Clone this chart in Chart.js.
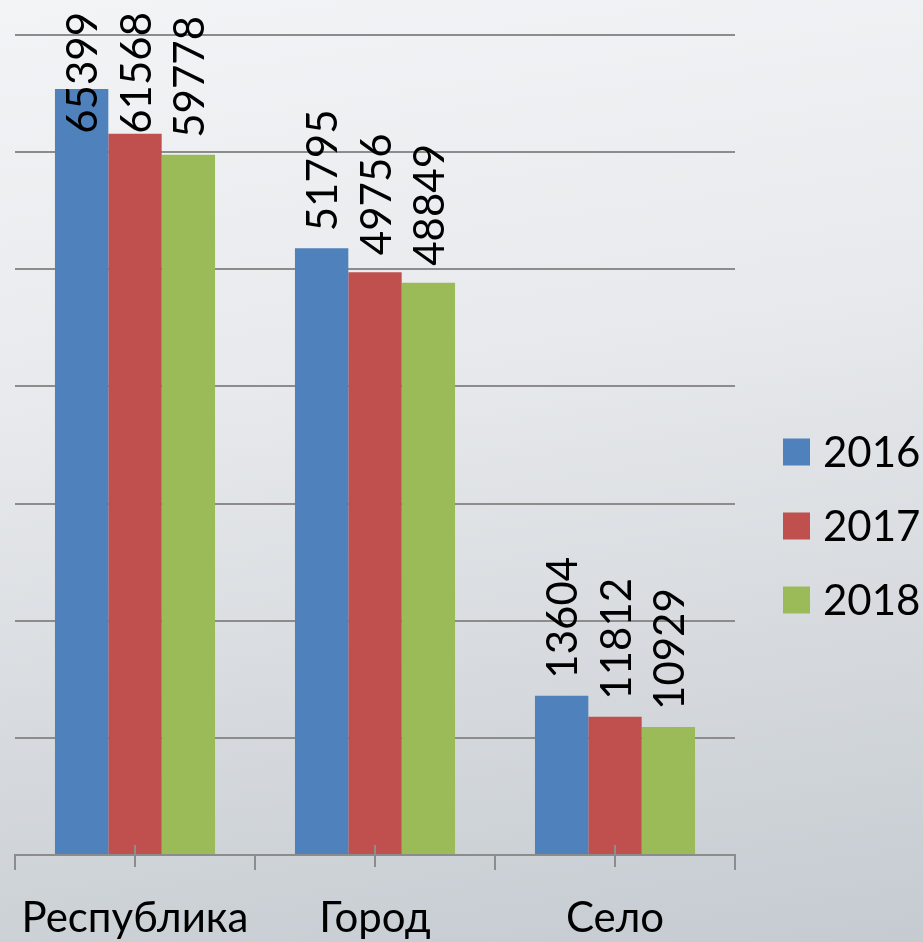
<!DOCTYPE html>
<html lang="ru">
<head>
<meta charset="utf-8">
<title>Республика / Город / Село</title>
<script src="https://cdn.jsdelivr.net/npm/chart.js@4.4.1/dist/chart.umd.min.js"></script>
<style>
    html, body { margin: 0; padding: 0; }
    body {
        width: 923px;
        height: 942px;
        overflow: hidden;
        background: linear-gradient(172deg, #f3f4f6 0%, #e7e9ec 40%, #d6dade 70%, #c5cbd1 100%);
    }
    #wrap { position: relative; width: 923px; height: 942px; }
</style>
</head>
<body>
<div id="wrap"><canvas id="chart"></canvas></div>
<script>
// Данные
const categories = ['Республика', 'Город', 'Село'];
const years = ['2016', '2017', '2018'];
const values2016 = [65399, 51795, 13604];
const values2017 = [61568, 49756, 11812];
const values2018 = [59778, 48849, 10929];
const yMax = 70000;
const yStep = 10000;

const colors = ['#4f81bd', '#c0504d', '#9bbb59'];
const gridColor = '#8c8c8c';
const fontFamily = 'Lato, "Open Sans", sans-serif';

// Подписи значений, повёрнутые вертикально
const barLabels = {
    id: 'barLabels',
    afterDatasetsDraw(chart) {
        const ctx = chart.ctx;
        ctx.save();
        ctx.font = '42px ' + fontFamily;
        ctx.fillStyle = '#000';
        ctx.textAlign = 'left';
        ctx.textBaseline = 'middle';
        chart.data.datasets.forEach((ds, i) => {
            chart.getDatasetMeta(i).data.forEach((bar, j) => {
                const text = String(ds.data[j]);
                const w = ctx.measureText(text).width;
                const start = Math.max(bar.y - 17, 12 + w);
                ctx.save();
                ctx.translate(bar.x + 2, start);
                ctx.rotate(-Math.PI / 2);
                ctx.fillText(text, 0, 0);
                ctx.restore();
            });
        });
        ctx.restore();
    }
};

// Легенда справа
const sideLegend = {
    id: 'sideLegend',
    afterDraw(chart) {
        const ctx = chart.ctx;
        const left = chart.chartArea.right + 48;
        const firstY = 452;
        const rowGap = 74;
        ctx.save();
        ctx.font = '42px ' + fontFamily;
        ctx.textBaseline = 'middle';
        ctx.textAlign = 'left';
        chart.data.datasets.forEach((ds, i) => {
            const cy = firstY + i * rowGap;
            ctx.fillStyle = ds.backgroundColor;
            ctx.fillRect(left, cy - 13.5, 27, 27);
            ctx.fillStyle = '#000';
            ctx.fillText(ds.label, left + 40, cy + 1);
        });
        ctx.restore();
    }
};

// Малые засечки по центрам категорий
const centerTicks = {
    id: 'centerTicks',
    afterDraw(chart) {
        const ctx = chart.ctx;
        const xScale = chart.scales.x;
        const bottom = chart.chartArea.bottom;
        ctx.save();
        ctx.strokeStyle = gridColor;
        ctx.lineWidth = 2;
        categories.forEach((c, i) => {
            const x = Math.round(xScale.getPixelForValue(i));
            ctx.beginPath();
            ctx.moveTo(x, bottom - 10);
            ctx.lineTo(x, bottom + 12);
            ctx.stroke();
        });
        ctx.restore();
    }
};

const datasets = [values2016, values2017, values2018].map((vals, i) => ({
    label: years[i],
    data: vals,
    backgroundColor: colors[i],
    borderWidth: 0,
    barPercentage: 1,
    categoryPercentage: 0.667
}));

const ctx = document.getElementById('chart').getContext('2d');
const chart = new Chart(ctx, {
    type: 'bar',
    data: {
        labels: categories,
        datasets: datasets
    },
    options: {
        responsive: true,
        maintainAspectRatio: false,
        animation: false,
        layout: {
            padding: { left: 15, top: 35, right: 188, bottom: 0 }
        },
        plugins: {
            legend: { display: false },
            tooltip: { enabled: false }
        },
        scales: {
            x: {
                afterFit: (scale) => {
                    scale.height = 87;
                    scale.paddingLeft = 0;
                    scale.paddingRight = 0;
                },
                grid: {
                    offset: true,
                    drawOnChartArea: false,
                    tickLength: 15,
                    color: gridColor,
                    lineWidth: 2
                },
                border: { color: gridColor, width: 2 },
                ticks: {
                    color: '#000',
                    padding: 23,
                    font: { family: fontFamily, size: 42 }
                }
            },
            y: {
                min: 0,
                max: yMax,
                afterFit: (scale) => { scale.width = 0; },
                border: { display: false },
                grid: {
                    drawTicks: false,
                    color: gridColor,
                    lineWidth: 2
                },
                ticks: { display: false, stepSize: yStep }
            }
        }
    },
    plugins: [barLabels, sideLegend, centerTicks]
});
</script>
</body>
</html>
